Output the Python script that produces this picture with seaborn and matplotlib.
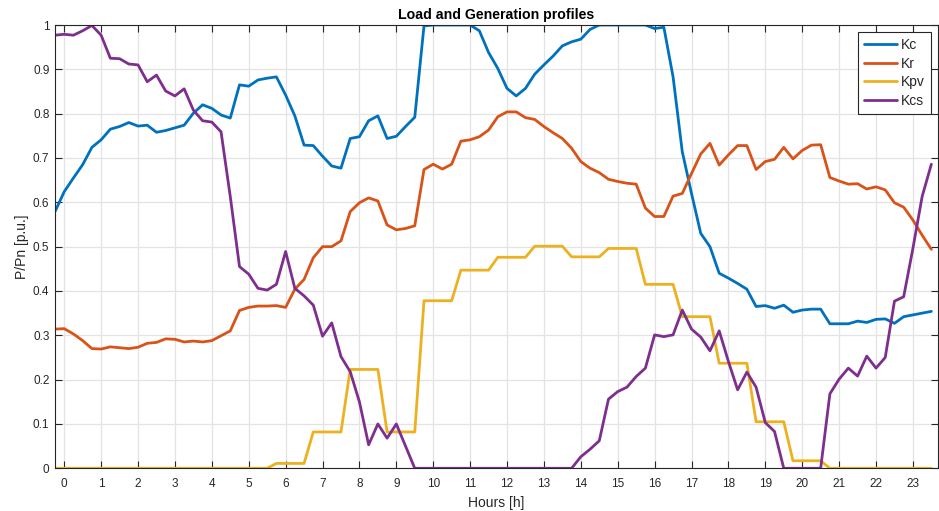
import numpy as np
import pandas as pd
import matplotlib
matplotlib.use("Agg")
import matplotlib.pyplot as plt
import seaborn as sns

hours = [h / 4 - 0.25 for h in range(96)]

kc = [0.579, 0.624, 0.655, 0.685, 0.724, 0.741, 0.765, 0.771, 0.780, 0.772,
      0.774, 0.758, 0.762, 0.768, 0.774, 0.801, 0.820, 0.812, 0.797, 0.790,
      0.865, 0.862, 0.876, 0.880, 0.883, 0.842, 0.795, 0.729, 0.728, 0.704,
      0.682, 0.677, 0.744, 0.748, 0.784, 0.795, 0.744, 0.749, 0.771, 0.792,
      0.998, 1.0, 1.0, 1.0, 1.0, 1.0, 0.987, 0.938, 0.902, 0.857,
      0.840, 0.857, 0.889, 0.910, 0.930, 0.953, 0.962, 0.968, 0.990, 1.0,
      1.0, 1.0, 1.0, 1.0, 1.0, 0.992, 0.995, 0.883, 0.714, 0.620,
      0.530, 0.500, 0.440, 0.429, 0.417, 0.404, 0.365, 0.367, 0.361, 0.368,
      0.352, 0.357, 0.359, 0.359, 0.326, 0.326, 0.326, 0.332, 0.329, 0.336,
      0.337, 0.327, 0.342, 0.346, 0.350, 0.354]

kr = [0.314, 0.315, 0.303, 0.288, 0.270, 0.269, 0.274, 0.272, 0.270, 0.273,
      0.282, 0.284, 0.292, 0.291, 0.285, 0.287, 0.285, 0.288, 0.299, 0.310,
      0.356, 0.363, 0.366, 0.366, 0.367, 0.363, 0.404, 0.426, 0.475, 0.500,
      0.500, 0.513, 0.579, 0.599, 0.610, 0.603, 0.549, 0.538, 0.541, 0.547,
      0.674, 0.686, 0.675, 0.686, 0.738, 0.741, 0.748, 0.763, 0.793, 0.804,
      0.804, 0.791, 0.787, 0.771, 0.757, 0.744, 0.722, 0.692, 0.677, 0.667,
      0.652, 0.647, 0.643, 0.641, 0.587, 0.568, 0.568, 0.614, 0.620, 0.665,
      0.709, 0.733, 0.684, 0.707, 0.728, 0.728, 0.674, 0.692, 0.697, 0.724,
      0.698, 0.717, 0.729, 0.730, 0.656, 0.648, 0.641, 0.642, 0.630, 0.635,
      0.628, 0.599, 0.589, 0.560, 0.526, 0.494]

kpv = [0, 0, 0, 0, 0, 0, 0, 0, 0, 0,
       0, 0, 0, 0, 0, 0, 0, 0, 0, 0,
       0, 0, 0, 0, 0.011, 0.011, 0.011, 0.011, 0.082, 0.082,
       0.082, 0.082, 0.223, 0.223, 0.223, 0.223, 0.082, 0.082, 0.082, 0.082,
       0.378, 0.378, 0.378, 0.378, 0.447, 0.447, 0.447, 0.447, 0.476, 0.476,
       0.476, 0.476, 0.501, 0.501, 0.501, 0.501, 0.477, 0.477, 0.477, 0.477,
       0.496, 0.496, 0.496, 0.496, 0.415, 0.415, 0.415, 0.415, 0.342, 0.342,
       0.342, 0.342, 0.237, 0.237, 0.237, 0.237, 0.105, 0.105, 0.105, 0.105,
       0.017, 0.017, 0.017, 0.017, 0, 0, 0, 0, 0, 0,
       0, 0, 0, 0, 0, 0]

kcs = [0.977, 0.979, 0.977, 0.987, 0.999, 0.977, 0.925, 0.924, 0.912, 0.910,
       0.872, 0.887, 0.851, 0.840, 0.856, 0.808, 0.784, 0.781, 0.759, 0.613,
       0.455, 0.438, 0.406, 0.402, 0.415, 0.489, 0.406, 0.389, 0.368, 0.298,
       0.328, 0.252, 0.218, 0.150, 0.053, 0.100, 0.068, 0.100, 0.050, 0,
       0, 0, 0, 0, 0, 0, 0, 0, 0, 0,
       0, 0, 0, 0, 0, 0, 0, 0.026, 0.043, 0.062,
       0.156, 0.173, 0.183, 0.207, 0.226, 0.301, 0.297, 0.301, 0.357, 0.314,
       0.296, 0.265, 0.310, 0.241, 0.177, 0.217, 0.183, 0.103, 0.083, 0,
       0, 0, 0, 0, 0.168, 0.201, 0.226, 0.208, 0.253, 0.226,
       0.250, 0.377, 0.387, 0.496, 0.613, 0.686]

series_names = ["Kc", "Kr", "Kpv", "Kcs"]
colors = ["#0072BD", "#D95319", "#EDB120", "#7E2F8E"]
x_ticks = list(range(24))
y_ticks = [0, 0.1, 0.2, 0.3, 0.4, 0.5, 0.6, 0.7, 0.8, 0.9, 1]
y_tick_labels = ["0", "0.1", "0.2", "0.3", "0.4", "0.5", "0.6", "0.7", "0.8", "0.9", "1"]

df = pd.concat([
    pd.DataFrame({"hour": hours, "value": vals, "series": name})
    for name, vals in zip(series_names, [kc, kr, kpv, kcs])
], ignore_index=True)

sns.set_style("white")
plt.rcParams["font.family"] = ["Liberation Sans", "DejaVu Sans"]

fig = plt.figure(figsize=(9.39, 5.11), dpi=100)
ax = fig.add_axes([55 / 939, 1 - 468.3 / 511, (938 - 55) / 939, (468.3 - 25) / 511])

sns.lineplot(data=df, x="hour", y="value", hue="series", hue_order=series_names,
             palette=colors, linewidth=2.0, ax=ax, estimator=None, sort=False)

ax.set_xlim(-0.25, 23.68)
ax.set_ylim(0, 1)
ax.set_xticks(x_ticks)
ax.set_xticklabels([str(t) for t in x_ticks])
ax.set_yticks(y_ticks)
ax.set_yticklabels(y_tick_labels)
ax.grid(True, color="#e3e3e3", linewidth=0.9)
ax.set_axisbelow(True)
for s in ax.spines.values():
    s.set_color("#262626")
    s.set_linewidth(0.8)
    s.set_visible(True)
ax.tick_params(direction="in", length=5, width=0.8, color="#262626",
               labelcolor="#262626", labelsize=8.5, top=True, right=True,
               bottom=True, left=True)
ax.tick_params(axis="x", pad=7)
ax.tick_params(axis="y", pad=4)

ax.set_title("Load and Generation profiles", fontsize=10.2, fontweight="bold",
             color="black", pad=4)
ax.set_xlabel("Hours [h]", fontsize=10, color="#262626", labelpad=4)
ax.set_ylabel("P/Pn [p.u.]", fontsize=10, color="#262626", labelpad=3)

handles, labels = ax.get_legend_handles_labels()
leg = ax.legend(handles, labels, loc="upper right", fontsize=10, frameon=True,
                fancybox=False, framealpha=1, edgecolor="#262626",
                borderaxespad=0.5, handlelength=2.4, handletextpad=0.25,
                labelspacing=0.32, borderpad=0.45)
leg.get_frame().set_linewidth(0.8)

fig.savefig("out.png", dpi=100)
